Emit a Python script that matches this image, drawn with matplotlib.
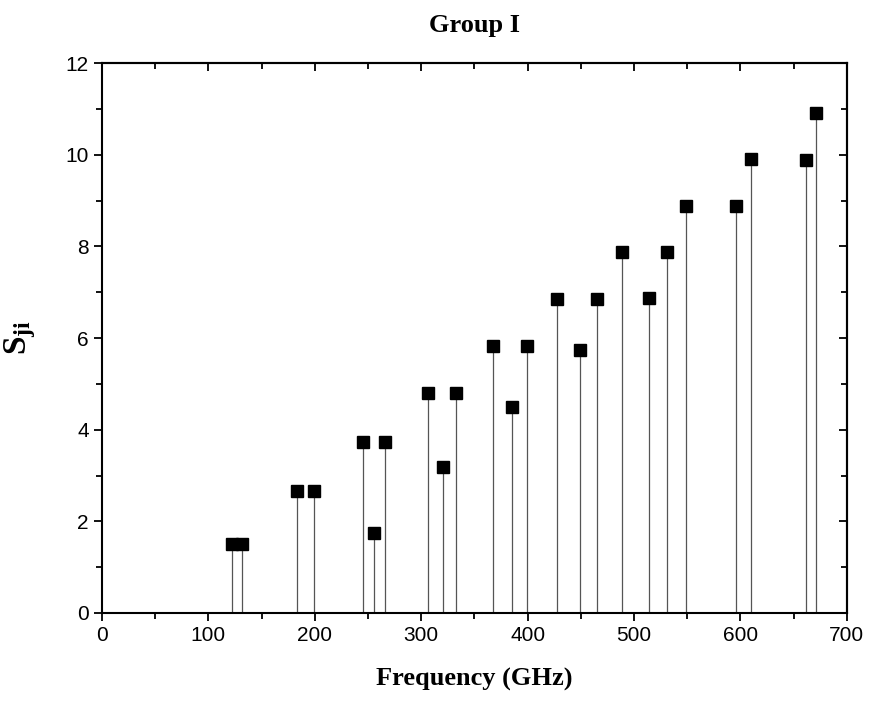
import matplotlib.pyplot as plt
from matplotlib.ticker import MultipleLocator

# Donnees
frequence = [122, 132, 183, 199, 245, 256, 266, 306.5, 320.5, 333, 367.5, 385,
             399, 428, 449.5, 465, 489, 514, 531, 549, 596, 610, 662, 671]
s_ji = [1.51, 1.51, 2.67, 2.67, 3.74, 1.75, 3.74, 4.80, 3.19, 4.80, 5.82, 4.50,
        5.82, 6.85, 5.74, 6.85, 7.88, 6.88, 7.88, 8.89, 8.89, 9.91, 9.88, 10.91]

x_ticks = [0, 100, 200, 300, 400, 500, 600, 700]
y_ticks = [0, 2, 4, 6, 8, 10, 12]

serif = 'Liberation Serif'
sans = 'Liberation Sans'
plt.rcParams['mathtext.fontset'] = 'custom'
plt.rcParams['mathtext.bf'] = 'Liberation Serif:bold'
plt.rcParams['mathtext.rm'] = 'Liberation Serif'

fig = plt.figure(figsize=(8.74, 7.05), dpi=100)
ax = fig.add_axes([0.1167, 0.1305, 0.8523, 0.7801])

# lignes verticales + marqueurs carres
ax.vlines(frequence, 0, s_ji, colors='#555555', linewidth=0.9)
ax.plot(frequence, s_ji, linestyle='none', marker='s', markersize=8.5,
        color='black')

ax.set_xlim(0, 700)
ax.set_ylim(0, 12)
ax.set_xticks(x_ticks)
ax.set_yticks(y_ticks)
ax.xaxis.set_minor_locator(MultipleLocator(50))
ax.yaxis.set_minor_locator(MultipleLocator(1))

for lab in ax.get_xticklabels() + ax.get_yticklabels():
    lab.set_fontfamily(sans)
    lab.set_fontsize(15)

ax.tick_params(which='major', direction='out', length=6, width=1.3)
ax.tick_params(which='minor', direction='out', length=4, width=1.3)

# ticks interieurs en haut et a droite
ax_top = ax.secondary_xaxis('top')
ax_top.set_xticks(x_ticks)
ax_top.xaxis.set_minor_locator(MultipleLocator(50))
ax_top.tick_params(which='both', direction='in', labeltop=False, width=1.3)
ax_top.tick_params(which='major', length=6)
ax_top.tick_params(which='minor', length=4)
ax_right = ax.secondary_yaxis('right')
ax_right.set_yticks(y_ticks)
ax_right.yaxis.set_minor_locator(MultipleLocator(1))
ax_right.tick_params(which='both', direction='in', labelright=False, width=1.3)
ax_right.tick_params(which='major', length=6)
ax_right.tick_params(which='minor', length=4)

for sp in ax.spines.values():
    sp.set_linewidth(1.5)
ax_top.spines['top'].set_linewidth(1.5)
ax_right.spines['right'].set_linewidth(1.5)

ax.set_title('Group I', fontfamily=serif, fontweight='bold', fontsize=19, pad=22)
ax.set_xlabel('Frequency (GHz)', fontfamily=serif, fontweight='bold',
              fontsize=19, labelpad=16)
ax.set_ylabel(r'$\mathbf{S_{ji}}$', fontsize=24, labelpad=20)

fig.savefig('out.png', dpi=100)
